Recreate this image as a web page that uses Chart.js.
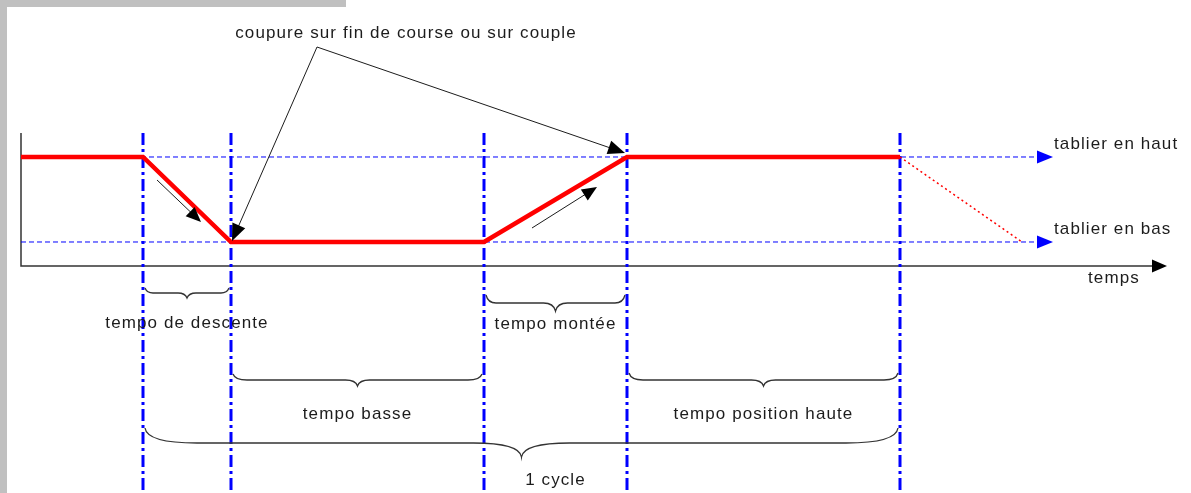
<!DOCTYPE html>
<html>
<head>
<meta charset="utf-8">
<script src="https://cdn.jsdelivr.net/npm/chart.js@4/dist/chart.umd.min.js"></script>
<style>
  html, body { margin: 0; padding: 0; background: #fff; }
  #wrap { position: relative; width: 1191px; height: 493px; }
</style>
</head>
<body>
<div id="wrap"><canvas id="cycleChart"></canvas></div>
<script>
// time marks of the cycle (start, end of wait, end of descent, end of low wait, end of rise, end of high wait)
const timeMarks = [0, 12.2, 21.0, 46.3, 60.6, 87.9];
// apron position : 1 = up, 0 = down
const profileLevels = [1, 1, 0, 0, 1, 1];
// dotted drift after the cycle
const driftTimes = [87.9, 100.1];
const driftLevels = [1, 0];
// reference levels
const levelValues = [1, 0];
const levelNames = ['tablier en haut', 'tablier en bas'];
// phases shown with braces : [start index, end index, label]
const phaseNames = ['tempo de descente', 'tempo basse', 'tempo montée', 'tempo position haute', '1 cycle'];
const phaseSpans = [[1, 2], [2, 3], [3, 4], [4, 5], [1, 5]];
const noteText = 'coupure sur fin de course ou sur couple';
const axisName = 'temps';

// axis extents (value units)
const xMin = -2.1, xMax = 117;
const yMin = -2.953, yMax = 2.847;
const refLineEnd = 101.7;
const timeAxisY = -0.282;
const markTop = 1.282;

const FONT = '17px "Liberation Sans", Arial, sans-serif';
const INK = '#1c1c1c';
const BLUE = '#0000ff';

function arrowHead(ctx, fx, fy, tx, ty, len, half, color) {
  const a = Math.atan2(ty - fy, tx - fx);
  ctx.save();
  ctx.fillStyle = color;
  ctx.beginPath();
  ctx.moveTo(tx, ty);
  ctx.lineTo(tx - len * Math.cos(a) + half * Math.sin(a), ty - len * Math.sin(a) - half * Math.cos(a));
  ctx.lineTo(tx - len * Math.cos(a) - half * Math.sin(a), ty - len * Math.sin(a) + half * Math.cos(a));
  ctx.closePath();
  ctx.fill();
  ctx.restore();
}

function arrow(ctx, fx, fy, tx, ty, len, half) {
  const a = Math.atan2(ty - fy, tx - fx);
  ctx.save();
  ctx.strokeStyle = INK;
  ctx.lineWidth = 1;
  ctx.beginPath();
  ctx.moveTo(fx, fy);
  ctx.lineTo(tx - (len - 2) * Math.cos(a), ty - (len - 2) * Math.sin(a));
  ctx.stroke();
  ctx.restore();
  arrowHead(ctx, fx, fy, tx, ty, len, half, '#000');
}

// curly brace, ends curl up, tip points down
function brace(ctx, x1, x2, tipX, yEnd, yLine, yTip, qEnd, qTip) {
  ctx.save();
  ctx.strokeStyle = '#333';
  ctx.lineWidth = 1.3;
  ctx.beginPath();
  ctx.moveTo(x1, yEnd);
  ctx.quadraticCurveTo(x1 + 2, yLine, x1 + qEnd, yLine);
  ctx.lineTo(tipX - qTip, yLine);
  ctx.quadraticCurveTo(tipX - 2, yLine, tipX, yTip);
  ctx.quadraticCurveTo(tipX + 2, yLine, tipX + qTip, yLine);
  ctx.lineTo(x2 - qEnd, yLine);
  ctx.quadraticCurveTo(x2 - 2, yLine, x2, yEnd);
  ctx.stroke();
  ctx.restore();
}

function label(ctx, text, x, y, align) {
  ctx.save();
  ctx.font = FONT;
  ctx.letterSpacing = '1.1px';
  ctx.fillStyle = INK;
  ctx.textAlign = align || 'center';
  ctx.textBaseline = 'middle';
  ctx.fillText(text, x, y);
  ctx.restore();
}

const diagramPlugin = {
  id: 'diagram',
  beforeDraw(chart) {
    const ctx = chart.ctx;
    ctx.save();
    ctx.fillStyle = '#fff';
    ctx.fillRect(0, 0, chart.width, chart.height);
    ctx.fillStyle = '#c0c0c0';
    ctx.fillRect(0, 0, 7, chart.height);
    ctx.fillRect(0, 0, 346, 7);
    ctx.restore();
  },
  beforeDatasetsDraw(chart) {
    const ctx = chart.ctx;
    const xs = chart.scales.x, ys = chart.scales.y;
    const x0 = xs.getPixelForValue(timeMarks[0]);
    const yAx = ys.getPixelForValue(timeAxisY);
    ctx.save();
    ctx.strokeStyle = '#333';
    ctx.lineWidth = 1.5;
    ctx.beginPath();
    ctx.moveTo(x0, ys.getPixelForValue(markTop));
    ctx.lineTo(x0, yAx);
    ctx.lineTo(1152, yAx);
    ctx.stroke();
    ctx.restore();
    arrowHead(ctx, x0, yAx, 1167, yAx, 15, 6.5, '#000');
    label(ctx, axisName, 1088, yAx + 12, 'left');
  },
  afterDatasetsDraw(chart) {
    const ctx = chart.ctx;
    const xs = chart.scales.x, ys = chart.scales.y;
    const px = t => xs.getPixelForValue(t);
    const yHi = ys.getPixelForValue(levelValues[0]);
    const yLo = ys.getPixelForValue(levelValues[1]);

    // blue arrow heads + level names
    levelValues.forEach((v, i) => {
      const y = ys.getPixelForValue(v);
      const xe = px(refLineEnd);
      arrowHead(ctx, xe - 10, y, xe + 15, y, 16, 6.5, BLUE);
      label(ctx, levelNames[i], xe + 16, y - 13, 'left');
    });

    // motion arrows along the red profile
    arrow(ctx, px(timeMarks[1]) + 14, yHi + 23, px(timeMarks[2]) - 30, yLo - 20, 15, 6.5);
    arrow(ctx, px(timeMarks[3]) + 48, yLo - 14, px(timeMarks[4]) - 30, yHi + 30, 15, 6.5);

    // cut-off note
    label(ctx, noteText, 406, 33);
    arrow(ctx, 317, 47, px(timeMarks[2]) + 1, yLo - 1, 17, 7);
    arrow(ctx, 317, 47, px(timeMarks[4]) - 2, yHi - 4, 17, 7);

    // braces
    const rows = [
      { yEnd: 288, yLine: 293, yTip: 298, qEnd: 8, qTip: 9, ty: 323 },
      { yEnd: 374, yLine: 380, yTip: 386, qEnd: 14, qTip: 12, ty: 414 },
      { yEnd: 295, yLine: 303, yTip: 311, qEnd: 10, qTip: 12, ty: 324 },
      { yEnd: 373, yLine: 380, yTip: 386, qEnd: 14, qTip: 12, ty: 414 },
      { yEnd: 428, yLine: 443, yTip: 457, qEnd: 52, qTip: 48, ty: 480 }
    ];
    phaseSpans.forEach((sp, i) => {
      const r = rows[i];
      const a = px(timeMarks[sp[0]]) + 2;
      const b = px(timeMarks[sp[1]]) - 2;
      const mid = px((timeMarks[sp[0]] + timeMarks[sp[1]]) / 2);
      brace(ctx, a, b, mid, r.yEnd, r.yLine, r.yTip, r.qEnd, r.qTip);
      const tx = i === 4 ? mid + 34 : mid;
      label(ctx, phaseNames[i], tx, r.ty);
    });
  }
};

const profile = timeMarks.map((t, i) => ({ x: t, y: profileLevels[i] }));
const drift = driftTimes.map((t, i) => ({ x: t, y: driftLevels[i] }));

const datasets = [
  { data: profile, borderColor: '#ff0000', borderWidth: 4.5 },
  { data: drift, borderColor: '#ff0000', borderWidth: 1.5, borderDash: [2, 3] }
];
timeMarks.slice(1).forEach(t => {
  datasets.push({
    data: [{ x: t, y: markTop }, { x: t, y: yMin }],
    borderColor: BLUE, borderWidth: 3, borderDash: [12, 4, 3, 4]
  });
});
levelValues.forEach(v => {
  datasets.push({
    data: [{ x: timeMarks[0], y: v }, { x: refLineEnd, y: v }],
    borderColor: BLUE, borderWidth: 1, borderDash: [5, 3]
  });
});
datasets.forEach(d => {
  d.showLine = true;
  d.pointRadius = 0;
  d.tension = 0;
  d.fill = false;
});

new Chart(document.getElementById('cycleChart'), {
  type: 'scatter',
  data: { datasets: datasets },
  options: {
    responsive: true,
    maintainAspectRatio: false,
    animation: false,
    layout: { padding: 0 },
    plugins: { legend: { display: false }, tooltip: { enabled: false } },
    scales: {
      x: { type: 'linear', display: false, min: xMin, max: xMax },
      y: { type: 'linear', display: false, min: yMin, max: yMax }
    }
  },
  plugins: [diagramPlugin]
});
</script>
</body>
</html>
